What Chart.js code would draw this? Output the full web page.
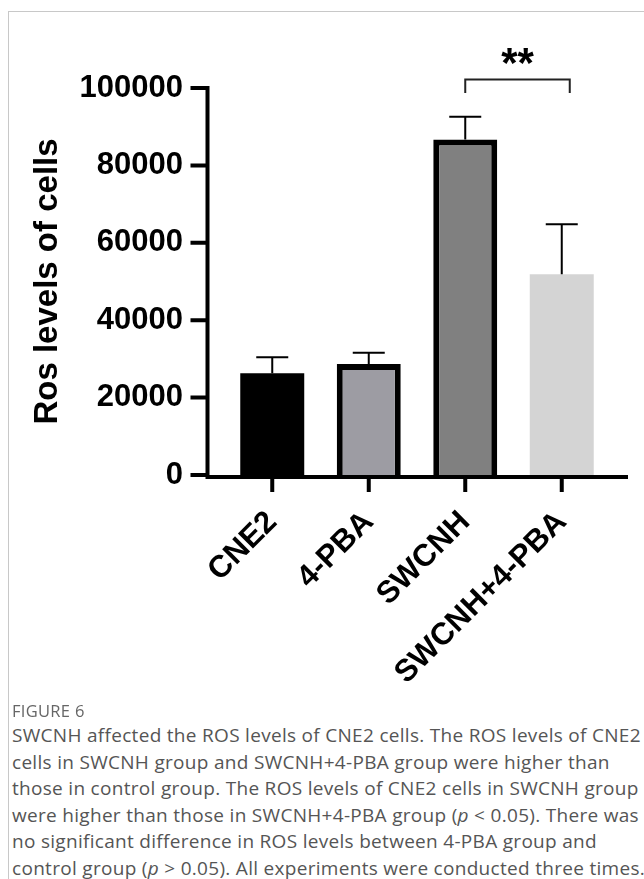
<!DOCTYPE html>
<html>
<head>
<meta charset="utf-8">
<script src="https://cdn.jsdelivr.net/npm/chart.js@4.4.1/dist/chart.umd.min.js"></script>
<style>
    html, body { margin: 0; padding: 0; background: #fff; }
    body { width: 644px; height: 879px; position: relative; overflow: hidden; }
    #frame { position: absolute; left: 8px; top: 11px; width: 700px; height: 900px;
             border-top: 1.5px solid #c8c8c8; border-left: 1.5px solid #c8c8c8; }
    #wrap { position: absolute; left: 0; top: 0; width: 644px; height: 700px; }
    #figLabel { position: absolute; left: 12px; top: 701px; font-family: "Open Sans", sans-serif;
                font-size: 16.5px; color: #666; letter-spacing: 0.3px; line-height: 20px; }
    #caption { position: absolute; left: 12px; top: 722px; font-family: "Open Sans", sans-serif;
               font-size: 19px; letter-spacing: 0.3px; line-height: 26.5px; color: #555; white-space: nowrap; }
</style>
</head>
<body>
<div id="frame"></div>
<div id="wrap"><canvas id="rosChart"></canvas></div>
<div id="figLabel">FIGURE 6</div>
<div id="caption">SWCNH affected the ROS levels of CNE2 cells. The ROS levels of CNE2<br>cells in SWCNH group and SWCNH+4-PBA group were higher than<br>those in control group. The ROS levels of CNE2 cells in SWCNH group<br>were higher than those in SWCNH+4-PBA group (<i>p</i> &lt; 0.05). There was<br>no significant difference in ROS levels between 4-PBA group and<br>control group (<i>p</i> &gt; 0.05). All experiments were conducted three times.</div>
<script>
"use strict";

// data
const categories = ['CNE2', '4-PBA', 'SWCNH', 'SWCNH+4-PBA'];
const meanValues = [26300, 28700, 86700, 51900];
const sdValues = [4100, 2900, 5900, 12900];
const yTicks = [0, 20000, 40000, 60000, 80000, 100000];
const sigPair = [2, 3];
const sigLabel = '**';

const fillColors = ['#000000', '#9d9ca3', '#808080', '#d4d4d4'];
const borderWidths = [0, 6, 6, 0];
const fontFamily = '"Liberation Sans", Arial, sans-serif';

// axes, error bars and the significance bracket drawn from the scales
const decorPlugin = {
    id: 'decor',
    afterDatasetsDraw(chart) {
        const ctx = chart.ctx;
        const xs = chart.scales.x;
        const ys = chart.scales.y;
        const area = chart.chartArea;
        const meta = chart.getDatasetMeta(0);
        const y0 = ys.getPixelForValue(0);
        const axisX = area.left - 16.5;

        ctx.save();
        ctx.strokeStyle = '#000';
        ctx.lineCap = 'butt';

        // error bars (upper only)
        ctx.lineWidth = 2;
        meta.data.forEach((bar, i) => {
            const top = ys.getPixelForValue(meanValues[i] + sdValues[i]);
            ctx.beginPath();
            ctx.moveTo(bar.x, bar.y);
            ctx.lineTo(bar.x, top);
            ctx.moveTo(bar.x - 16, top);
            ctx.lineTo(bar.x + 16, top);
            ctx.stroke();
        });

        // axis lines and tick marks
        ctx.lineWidth = 4;
        ctx.beginPath();
        ctx.moveTo(axisX, ys.getPixelForValue(yTicks[yTicks.length - 1]) - 2);
        ctx.lineTo(axisX, y0 + 4);
        ctx.moveTo(axisX - 2, y0 + 2);
        ctx.lineTo(area.right + 18, y0 + 2);
        yTicks.forEach(v => {
            const py = ys.getPixelForValue(v);
            ctx.moveTo(axisX - 17, py);
            ctx.lineTo(axisX, py);
        });
        categories.forEach((c, i) => {
            const px = xs.getPixelForValue(i);
            ctx.moveTo(px, y0);
            ctx.lineTo(px, y0 + 17);
        });
        ctx.stroke();

        // significance bracket
        const bx1 = xs.getPixelForValue(sigPair[0]);
        const bx2 = xs.getPixelForValue(sigPair[1]) + 8;
        const by = ys.getPixelForValue(102200);
        const legBottom = ys.getPixelForValue(98700);
        ctx.lineWidth = 2;
        ctx.strokeStyle = '#222';
        ctx.beginPath();
        ctx.moveTo(bx1, legBottom);
        ctx.lineTo(bx1, by);
        ctx.lineTo(bx2, by);
        ctx.lineTo(bx2, legBottom);
        ctx.stroke();

        ctx.fillStyle = '#000';
        ctx.font = 'bold 42px ' + fontFamily;
        ctx.textAlign = 'center';
        ctx.textBaseline = 'alphabetic';
        ctx.fillText(sigLabel, (bx1 + bx2) / 2, by - 2);
        ctx.restore();
    }
};

const ctx = document.getElementById('rosChart').getContext('2d');
const rosChart = new Chart(ctx, {
    type: 'bar',
    data: {
        labels: categories,
        datasets: [{
            data: meanValues,
            backgroundColor: fillColors,
            borderColor: '#000',
            borderWidth: borderWidths,
            barPercentage: 0.663,
            categoryPercentage: 1
        }]
    },
    options: {
        responsive: true,
        maintainAspectRatio: false,
        animation: false,
        layout: { padding: { top: 88, right: 34, left: 0, bottom: 0 } },
        plugins: {
            legend: { display: false },
            tooltip: { enabled: false }
        },
        scales: {
            x: {
                offset: true,
                grid: { display: false, drawTicks: false },
                border: { display: false },
                ticks: {
                    color: '#000',
                    font: { family: fontFamily, size: 31, weight: 'bold' },
                    minRotation: 45,
                    maxRotation: 45,
                    autoSkip: false,
                    padding: 29,
                    labelOffset: 0
                },
                afterFit: (scale) => { scale.height = 225; }
            },
            y: {
                min: 0,
                max: 100000,
                grid: { display: false, drawTicks: false },
                border: { display: false },
                afterBuildTicks: (scale) => { scale.ticks = yTicks.map(v => ({ value: v })); },
                ticks: {
                    color: '#000',
                    font: { family: fontFamily, size: 31, weight: 'bold' },
                    padding: 41,
                    callback: (value) => String(value)
                },
                title: {
                    display: true,
                    text: 'Ros levels of cells',
                    color: '#000',
                    font: { family: fontFamily, size: 33, weight: 'bold' },
                    padding: { top: 28, bottom: 0 }
                },
                afterFit: (scale) => { scale.width = 224; }
            }
        }
    },
    plugins: [decorPlugin]
});
</script>
</body>
</html>
